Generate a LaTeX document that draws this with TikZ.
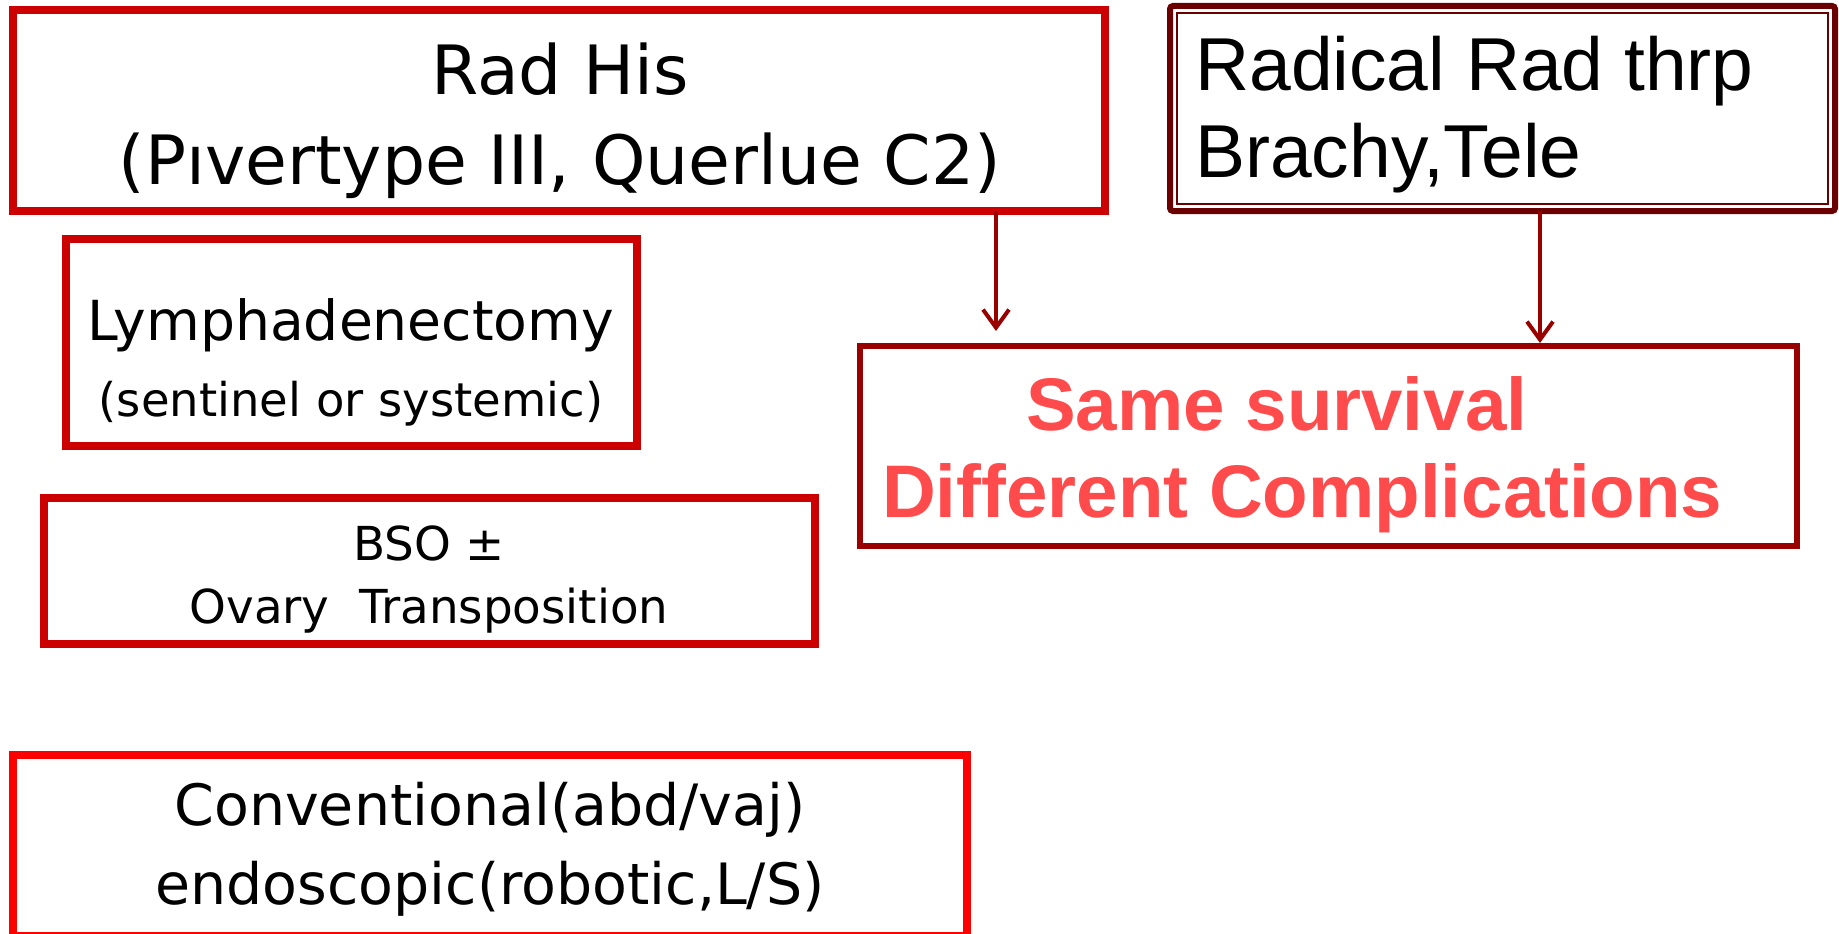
\documentclass[tikz,border=0pt]{standalone}
\usepackage{fontspec}
\usetikzlibrary{arrows.meta}
\newfontfamily\vfont{DejaVu Sans}
\newfontfamily\afont{Liberation Sans}
\definecolor{boxred}{HTML}{CC0000}
\definecolor{purered}{HTML}{FF0000}
\definecolor{maroonb}{HTML}{6B0000}
\definecolor{darkredb}{HTML}{990000}
\definecolor{salmonred}{HTML}{FF4B4B}
\begin{document}
\begin{tikzpicture}[x=1pt,y=-1pt,
  box/.style={draw, rectangle, inner sep=0pt, outer sep=0pt, anchor=north west},
  lbl/.style={inner sep=0pt, anchor=base},
  lbll/.style={inner sep=0pt, anchor=base west},
  arr/.style={draw=darkredb, line width=4pt, -{Straight Barb[length=18pt,width=26pt]}}
]
\useasboundingbox (0,0) rectangle (1839,934);
% boxes (anchor on the border line)
\node[box, draw=boxred, line width=8pt, minimum width=1092pt, minimum height=201pt] (b1) at (13,10) {};
\node[box, draw=maroonb, line width=6pt, rounded corners=3pt, minimum width=665pt, minimum height=205pt] (b2) at (1170,6) {};
\draw[maroonb, line width=1.6pt] ([shift={(7,7)}]b2.north west) rectangle ([shift={(-7,-7)}]b2.south east);
\node[box, draw=boxred, line width=8pt, minimum width=571pt, minimum height=207pt] (b3) at (66,239) {};
\node[box, draw=boxred, line width=8pt, minimum width=771pt, minimum height=146pt] (b4) at (44,498) {};
\node[box, draw=darkredb, line width=6pt, minimum width=937pt, minimum height=200pt] (b5) at (860,346) {};
\node[box, draw=purered, line width=8pt, minimum width=954pt, minimum height=181pt] (b6) at (13,755) {};
% texts
\node[lbl, font=\vfont\fontsize{68}{80}\selectfont] (t1a) at (560,95) {Rad His};
\node[lbl, font=\vfont\fontsize{68}{80}\selectfont] (t1b) at (560,184) {(Pıvertype III, Querlue C2)};
\node[lbll, font=\afont\fontsize{75}{85}\selectfont] (t2a) at (1195,90) {Radical Rad thrp};
\node[lbll, font=\afont\fontsize{75}{85}\selectfont] (t2b) at (1195,177) {Brachy,Tele};
\node[lbl, font=\vfont\fontsize{55.2}{60}\selectfont] (t3a) at (351,340) {Lymphadenectomy};
\node[lbl, font=\vfont\fontsize{46.5}{52}\selectfont] (t3b) at (351,416) {(sentinel or systemic)};
\node[lbl, font=\vfont\fontsize{46.8}{52}\selectfont] (t4a) at (429,560) {BSO ±};
\node[lbl, font=\vfont\fontsize{46.8}{52}\selectfont] (t4b) at (429,623) {Ovary\ \ Transposition};
\node[lbll, font=\afont\bfseries\fontsize{74.5}{80}\selectfont, text=salmonred] (t5a) at (1026,430) {Same survival};
\node[lbll, font=\afont\bfseries\fontsize{74.5}{80}\selectfont, text=salmonred] (t5b) at (882,517) {Different Complications};
\node[lbl, font=\vfont\fontsize{57}{64}\selectfont] (t6a) at (490,825) {Conventional(abd/vaj)};
\node[lbl, font=\vfont\fontsize{57}{64}\selectfont] (t6b) at (490,904) {endoscopic(robotic,L/S)};
% connectors
\coordinate (e1) at (996,331);
\coordinate (e2) at (1540,343);
\draw[arr] (b1.south -| e1) -- (e1);
\draw[arr] (b2.south -| e2) -- (e2);
\end{tikzpicture}
\end{document}
